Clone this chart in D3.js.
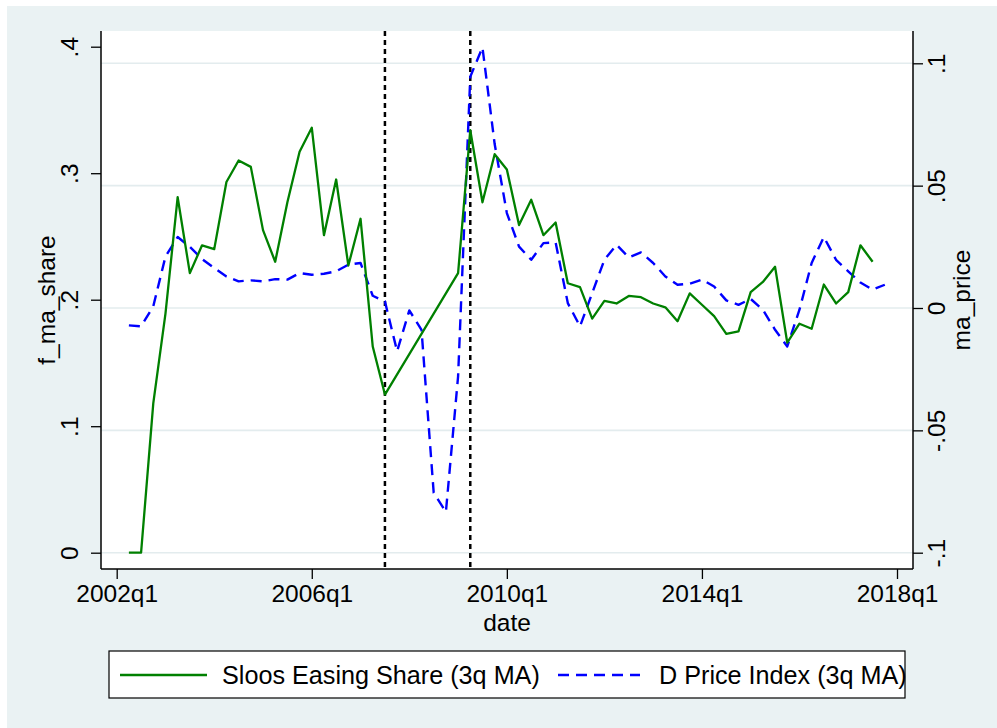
<!DOCTYPE html>
<html>
<head>
<meta charset="utf-8">
<script src="https://cdn.jsdelivr.net/npm/d3@7"></script>
<style>
  html, body { margin: 0; padding: 0; background: #ffffff; }
  svg { display: block; font-family: "Liberation Sans", Arial, Helvetica, sans-serif; }
</style>
</head>
<body>
<svg id="chart" width="997" height="728"></svg>
<script>
// ---- data (quarter labels and values) ----
const quarters = ["2002q2","2002q3","2002q4","2003q1","2003q2","2003q3","2003q4","2004q1","2004q2","2004q3","2004q4",
  "2005q1","2005q2","2005q3","2005q4","2006q1","2006q2","2006q3","2006q4","2007q1","2007q2","2007q3","2007q4",
  "2008q1","2008q2","2008q3","2008q4","2009q1","2009q2","2009q3","2009q4","2010q1","2010q2","2010q3","2010q4",
  "2011q1","2011q2","2011q3","2011q4","2012q1","2012q2","2012q3","2012q4","2013q1","2013q2","2013q3","2013q4",
  "2014q1","2014q2","2014q3","2014q4","2015q1","2015q2","2015q3","2015q4","2016q1","2016q2","2016q3","2016q4",
  "2017q1","2017q2","2017q3","2017q4"];

// Sloos Easing Share (3q MA) -> left axis f_ma_share (null = missing)
const shareValues = [0, 0, 0.118, 0.189, 0.281, 0.221, 0.243, 0.240, 0.293, 0.310, 0.305,
  0.255, 0.230, 0.277, 0.317, 0.336, 0.251, 0.295, 0.227, 0.264, 0.163, 0.125, null,
  null, null, null, null, 0.221, 0.334, 0.277, 0.315, 0.303, 0.259, 0.279, 0.251,
  0.261, 0.213, 0.210, 0.185, 0.199, 0.197, 0.203, 0.202, 0.197, 0.194, 0.183, 0.205,
  0.196, 0.187, 0.173, 0.175, 0.206, 0.214, 0.226, 0.166, 0.181, 0.177, 0.212, 0.197,
  0.206, 0.243, 0.230, null];

// D Price Index (3q MA) -> right axis ma_price
const priceValues = [-0.0071, -0.0075, 0.0007, 0.0210, 0.0290, 0.0250, 0.0200, 0.0163, 0.0129, 0.0109, 0.0113,
  0.0109, 0.0118, 0.0116, 0.0143, 0.0136, 0.0140, 0.0150, 0.0177, 0.0184, 0.0050, 0.0027, -0.0177,
  -0.0010, -0.0089, -0.0755, -0.0834, -0.0280, 0.0945, 0.1065, 0.0670, 0.0388, 0.0251, 0.0197, 0.0265,
  0.0268, 0.0020, -0.0075, 0.0061, 0.0197, 0.0258, 0.0207, 0.0227, 0.0184, 0.0129, 0.0095, 0.0099,
  0.0116, 0.0088, 0.0031, 0.0013, 0.0037, -0.0007, -0.0089, -0.0157, -0.0007, 0.0184, 0.0290, 0.0197,
  0.0150, 0.0104, 0.0075, 0.0095];

const xTickLabels = ["2002q1", "2006q1", "2010q1", "2014q1", "2018q1"];
const leftTicks = [0, 0.1, 0.2, 0.3, 0.4];
const leftTickLabels = ["0", ".1", ".2", ".3", ".4"];
const rightTicks = [-0.1, -0.05, 0, 0.05, 0.1];
const rightTickLabels = ["-.1", "-.05", "0", ".05", ".1"];
const eventQuarters = ["2007q3", "2009q2"];
const seriesNames = ["Sloos Easing Share (3q MA)", "D Price Index (3q MA)"];
const axisTitles = { x: "date", left: "f_ma_share", right: "ma_price" };

// ---- helpers ----
const qIndex = s => (parseInt(s.slice(0, 4)) - 2002) * 4 + (parseInt(s.slice(5)) - 1);

const svg = d3.select("#chart");
const W = 997, H = 728;
const plot = { left: 101, right: 913, top: 31, bottom: 569 };
const FONT = 24.5;
const LEGEND_FONT = 25.2;

// outer graph region
svg.append("rect").attr("x", 7).attr("y", 6).attr("width", W - 7).attr("height", H - 6).attr("fill", "#eaf2f3");
// plot region
svg.append("rect").attr("x", plot.left).attr("y", plot.top)
  .attr("width", plot.right - plot.left).attr("height", plot.bottom - plot.top).attr("fill", "#ffffff");

const x = d3.scaleLinear().domain([0, 64]).range([116.7, 897]);
const yL = d3.scaleLinear().domain([0, 0.4]).range([552.7, 46.7]);
const yR = d3.scaleLinear().domain([-0.1, 0.1]).range([552.7, 63.3]);

// gridlines (from right axis)
svg.append("g").selectAll("line").data(rightTicks).join("line")
  .attr("x1", plot.left).attr("x2", plot.right)
  .attr("y1", d => yR(d)).attr("y2", d => yR(d))
  .attr("stroke", "#e3ecee").attr("stroke-width", 1.6);

// axes
const axisColor = "#000";
const gx = svg.append("g").attr("transform", `translate(0,${plot.bottom})`)
  .call(d3.axisBottom(x).tickValues(xTickLabels.map(qIndex)).tickFormat((d, i) => xTickLabels[i])
    .tickSize(10).tickSizeOuter(0).tickPadding(6));
gx.select(".domain").attr("d", `M${plot.left},0H${plot.right}`);

const gl = svg.append("g").attr("transform", `translate(${plot.left},0)`)
  .call(d3.axisLeft(yL).tickValues(leftTicks).tickFormat((d, i) => leftTickLabels[i]).tickSize(10).tickSizeOuter(0));
gl.select(".domain").attr("d", `M0,${plot.top}V${plot.bottom}`);

const gr = svg.append("g").attr("transform", `translate(${plot.right},0)`)
  .call(d3.axisRight(yR).tickValues(rightTicks).tickFormat((d, i) => rightTickLabels[i]).tickSize(10).tickSizeOuter(0));
gr.select(".domain").attr("d", `M0,${plot.top}V${plot.bottom}`);

[gx, gl, gr].forEach(g => {
  g.select(".domain").attr("stroke", axisColor).attr("stroke-width", 1.5);
  g.selectAll(".tick line").attr("stroke", axisColor).attr("stroke-width", 1.3);
  g.selectAll("text").attr("font-size", FONT).attr("font-family", "Liberation Sans, Arial, sans-serif").attr("fill", "#000");
});
gx.selectAll(".tick text").attr("dy", null).attr("y", 33);

// rotate vertical tick labels
gl.selectAll(".tick text")
  .attr("x", null).attr("dy", null).attr("text-anchor", "middle")
  .attr("transform", `translate(${78 - plot.left},0) rotate(-90)`);
gr.selectAll(".tick text")
  .attr("x", null).attr("dy", null).attr("text-anchor", "middle")
  .attr("transform", `translate(${945 - plot.right},0) rotate(-90)`);

// event lines
svg.append("g").selectAll("line").data(eventQuarters).join("line")
  .attr("x1", d => x(qIndex(d))).attr("x2", d => x(qIndex(d)))
  .attr("y1", plot.top).attr("y2", plot.bottom)
  .attr("stroke", "#000").attr("stroke-width", 2.5).attr("stroke-dasharray", "5,4");

// series
const shareData = quarters.map((q, i) => ({ q: qIndex(q), v: shareValues[i] })).filter(d => d.v !== null);
const priceData = quarters.map((q, i) => ({ q: qIndex(q), v: priceValues[i] })).filter(d => d.v !== null);

svg.append("path").datum(priceData)
  .attr("d", d3.line().x(d => x(d.q)).y(d => yR(d.v)))
  .attr("fill", "none").attr("stroke", "#0000ff").attr("stroke-width", 2.4)
  .attr("stroke-dasharray", "11,7").attr("stroke-linejoin", "round");

svg.append("path").datum(shareData)
  .attr("d", d3.line().x(d => x(d.q)).y(d => yL(d.v)))
  .attr("fill", "none").attr("stroke", "#008000").attr("stroke-width", 2.3).attr("stroke-linejoin", "round");

// axis titles
svg.append("text").attr("x", (plot.left + plot.right) / 2).attr("y", 631)
  .attr("text-anchor", "middle").attr("font-size", FONT).text(axisTitles.x);
svg.append("text").attr("transform", `translate(55,${(plot.top + plot.bottom) / 2}) rotate(-90)`)
  .attr("text-anchor", "middle").attr("font-size", FONT).text(axisTitles.left);
svg.append("text").attr("transform", `translate(970,${(plot.top + plot.bottom) / 2}) rotate(-90)`)
  .attr("text-anchor", "middle").attr("font-size", FONT).text(axisTitles.right);

// legend
const lg = svg.append("g");
lg.append("rect").attr("x", 109).attr("y", 651).attr("width", 796).attr("height", 47)
  .attr("fill", "#fff").attr("stroke", "#000").attr("stroke-width", 1.2);
lg.append("line").attr("x1", 120).attr("x2", 207).attr("y1", 675).attr("y2", 675)
  .attr("stroke", "#008000").attr("stroke-width", 2.3);
lg.append("text").attr("x", 222).attr("y", 684).attr("font-size", LEGEND_FONT).text(seriesNames[0]);
lg.append("line").attr("x1", 558).attr("x2", 640).attr("y1", 675).attr("y2", 675)
  .attr("stroke", "#0000ff").attr("stroke-width", 2.4).attr("stroke-dasharray", "11,7");
lg.append("text").attr("x", 659).attr("y", 684).attr("font-size", LEGEND_FONT).text(seriesNames[1]);
</script>
</body>
</html>
